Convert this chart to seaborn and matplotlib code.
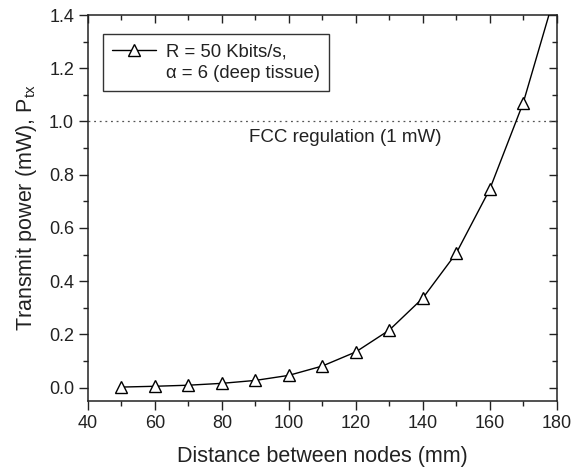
import matplotlib
matplotlib.use("Agg")
import matplotlib.pyplot as plt
from matplotlib.ticker import MultipleLocator
from matplotlib.lines import Line2D
import seaborn as sns
import pandas as pd

distance_mm = [50, 60, 70, 80, 90, 100, 110, 120, 130, 140, 150, 160, 170, 180]
power_mw = [0.002, 0.005, 0.009, 0.016, 0.027, 0.046, 0.081, 0.134, 0.216, 0.336, 0.505, 0.745, 1.07, 1.50]
n_marked = 13
fcc_level = 1.0
x_ticks = [40, 60, 80, 100, 120, 140, 160, 180]
y_ticks = [0.0, 0.2, 0.4, 0.6, 0.8, 1.0, 1.2, 1.4]
legend_lines = ["R = 50 Kbits/s,", "α = 6 (deep tissue)"]

df = pd.DataFrame({"d": distance_mm, "p": power_mw})

sns.set_style("ticks")
plt.rcParams["font.family"] = ["Liberation Sans", "DejaVu Sans"]
plt.rcParams["mathtext.fontset"] = "custom"
plt.rcParams["mathtext.rm"] = "Liberation Sans"
plt.rcParams["mathtext.it"] = "Liberation Sans"

TXT = "#222222"
fig = plt.figure(figsize=(5.86, 4.70), dpi=100)
ax = fig.add_axes([0.150, 0.147, 0.800, 0.821])

ax.axhline(fcc_level, color="#555555", linestyle=(0, (1.5, 3)), linewidth=0.9, zorder=1)

sns.lineplot(data=df, x="d", y="p", ax=ax, color="black", linewidth=1.0,
             marker="^", markersize=8, markerfacecolor="white",
             markeredgecolor="black", markeredgewidth=1.0,
             markevery=list(range(n_marked)), zorder=3)

ax.text(117, 0.938, "FCC regulation (1 mW)", ha="center", va="center", fontsize=13.5, color=TXT)

ax.set_xlim(40, 180)
ax.set_ylim(-0.05, 1.4)
ax.set_xticks(x_ticks)
ax.set_yticks(y_ticks)
ax.set_xticklabels([str(v) for v in x_ticks])
ax.set_yticklabels([f"{v:.1f}" for v in y_ticks])
ax.xaxis.set_minor_locator(MultipleLocator(10))
ax.yaxis.set_minor_locator(MultipleLocator(0.1))

# outward ticks on left/bottom
ax.tick_params(which="both", direction="out", labelsize=13, colors=TXT, pad=3.5)
ax.tick_params(which="major", length=6.5, width=1)
ax.tick_params(which="minor", length=3.5, width=1)
# inward mirrored ticks on top/right
sec_x = ax.secondary_xaxis("top")
sec_x.set_xticks(x_ticks)
sec_x.xaxis.set_minor_locator(MultipleLocator(10))
sec_x.tick_params(which="both", direction="in", labeltop=False, colors=TXT)
sec_x.tick_params(which="major", length=6, width=1)
sec_x.tick_params(which="minor", length=3.5, width=1)
sec_x.spines["top"].set_visible(False)
sec_y = ax.secondary_yaxis("right")
sec_y.set_yticks(y_ticks)
sec_y.yaxis.set_minor_locator(MultipleLocator(0.1))
sec_y.tick_params(which="both", direction="in", labelright=False, colors=TXT)
sec_y.tick_params(which="major", length=6, width=1)
sec_y.tick_params(which="minor", length=3.5, width=1)
sec_y.spines["right"].set_visible(False)

for s in ax.spines.values():
    s.set_linewidth(1.1)
    s.set_color(TXT)

ax.set_xlabel("Distance between nodes (mm)", fontsize=15.5, color=TXT, labelpad=10)
ax.set_ylabel(r"Transmit power (mW), P$_{\rm tx}$", fontsize=15.5, color=TXT, labelpad=7)

h_main = Line2D([], [], color="black", linewidth=1.0, marker="^", markersize=9,
                markerfacecolor="white", markeredgecolor="black", markeredgewidth=1.0)
h_blank = Line2D([], [], linestyle="none")
leg = ax.legend(handles=[h_main, h_blank], labels=legend_lines,
                loc="upper left", bbox_to_anchor=(0.032, 0.951), borderaxespad=0,
                fontsize=13.3, frameon=True, fancybox=False, edgecolor="black",
                handlelength=2.4, handletextpad=0.5, borderpad=0.5, labelspacing=0.25)
leg.get_frame().set_linewidth(1.0)
for t in leg.get_texts():
    t.set_color(TXT)

fig.savefig("out.png", dpi=100)
